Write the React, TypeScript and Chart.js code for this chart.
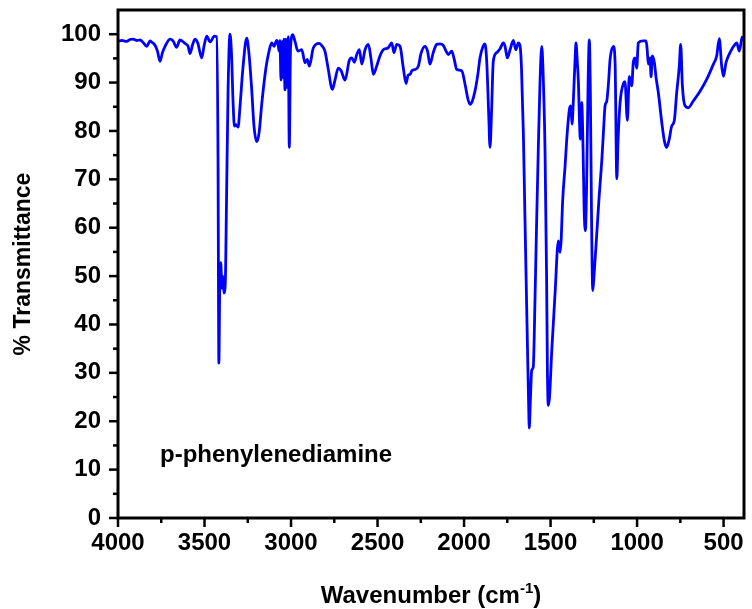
import React, { useEffect, useRef } from "react";
import { Chart, registerables } from "chart.js";

Chart.register(...registerables);

// Wavenumber (cm-1)
const wavenumbers = [
  4000, 3977, 3950, 3931, 3913, 3890, 3873, 3855, 3834, 3815,
  3803, 3786, 3772, 3757, 3743, 3728, 3699, 3682, 3661, 3642,
  3613, 3595, 3584, 3569, 3555, 3539, 3516, 3503, 3487, 3468,
  3443, 3430, 3422, 3417, 3412, 3406, 3400, 3394, 3388, 3380,
  3373, 3364, 3353, 3344, 3335, 3327, 3318, 3306, 3295, 3278,
  3256, 3243, 3228, 3214, 3198, 3185, 3168, 3145, 3127, 3112,
  3098, 3083, 3075, 3069, 3064, 3058, 3052, 3046, 3041, 3035,
  3029, 3023, 3016, 3010, 3003, 2990, 2977, 2960, 2938, 2919,
  2906, 2894, 2871, 2837, 2821, 2804, 2786, 2761, 2746, 2727,
  2711, 2688, 2663, 2649, 2634, 2620, 2605, 2591, 2572, 2553,
  2538, 2524, 2505, 2486, 2467, 2438, 2418, 2405, 2389, 2370,
  2351, 2335, 2324, 2312, 2301, 2283, 2264, 2249, 2226, 2211,
  2197, 2178, 2158, 2139, 2120, 2104, 2091, 2071, 2058, 2042,
  2013, 1994, 1977, 1965, 1954, 1937, 1919, 1908, 1890, 1879,
  1869, 1858, 1850, 1841, 1831, 1811, 1792, 1773, 1763, 1750,
  1734, 1715, 1701, 1686, 1676, 1668, 1657, 1648, 1636, 1627,
  1623, 1617, 1609, 1600, 1590, 1580, 1571, 1561, 1551, 1544,
  1532, 1523, 1518, 1513, 1506, 1493, 1474, 1455, 1445, 1439,
  1430, 1416, 1405, 1391, 1383, 1376, 1368, 1358, 1353, 1345,
  1339, 1332, 1328, 1320, 1312, 1306, 1299, 1292, 1283, 1276,
  1270, 1264, 1256, 1249, 1233, 1220, 1204, 1194, 1185, 1175,
  1165, 1156, 1137, 1127, 1117, 1110, 1098, 1079, 1070, 1056,
  1045, 1031, 1022, 1012, 1002, 993, 964, 948, 942, 935,
  925, 919, 912, 900, 890, 877, 857, 842, 829, 814,
  800, 785, 771, 756, 748, 738, 723, 704, 675, 636,
  597, 559, 540, 525, 511, 501, 486, 463, 434, 424,
  409, 395, 388,
];

// % Transmittance
const transmittance = [
  98.6, 98.7, 98.5, 98.9, 99.0, 98.7, 98.8, 98.3, 97.5, 98.6,
  98.3, 97.7, 96.5, 94.4, 96.2, 97.5, 99.0, 98.6, 97.3, 98.8,
  98.1, 97.5, 96.0, 97.8, 99.0, 98.2, 95.1, 97.5, 99.6, 98.4,
  99.6, 99.5, 75, 32.0, 48, 52.8, 47.5, 50, 46.5, 48.5,
  65, 88, 100, 96, 86, 81, 81.3, 80.8, 85, 93,
  99.2, 96, 89, 81, 77.8, 79.5, 86, 93, 96.5, 98.2,
  97.5, 98.7, 98, 96.5, 98.7, 90.5, 98.5, 91, 99, 88.5,
  99, 89, 99.5, 76.6, 97, 99.9, 98.5, 96.5, 96.8, 94.1,
  94.8, 93.4, 97.2, 98.1, 97.6, 96.5, 93, 88.6, 90.5, 93,
  92.5, 90.5, 94.6, 95.1, 94.2, 95.8, 96.8, 93.8, 96.8, 97.9,
  95, 91.7, 93.4, 95.5, 96.8, 97.2, 98.2, 96.2, 97.9, 97.5,
  93, 89.8, 91.5, 91.7, 92.5, 92.7, 93.4, 96, 97.5, 96.5,
  93.8, 96.2, 97.9, 98, 97.7, 96.5, 95.8, 96.5, 95, 92.7,
  92.4, 89.6, 86.5, 85.5, 86, 88.2, 92, 95.1, 97.5, 98,
  94.4, 84, 76.6, 84, 94.4, 96.2, 97, 98.2, 97.5, 95.1,
  96.8, 98.7, 96.8, 98.2, 97.5, 93, 79.3, 62, 40, 24,
  18.6, 24, 30.5, 31.2, 45, 62, 76, 90, 97.5, 93,
  76, 50, 30, 23.3, 25, 34.6, 46.4, 57.3, 54.9, 57.3,
  65.6, 72.8, 79, 84.5, 85.2, 81.4, 86.5, 95, 98.2, 94,
  90, 81, 78.3, 85.9, 76, 64, 59.4, 68, 90, 98.8,
  88, 65, 47, 50, 58.7, 66, 73.8, 80, 85.2, 86.2,
  90, 94.8, 97.5, 94, 70.1, 78, 85.9, 89.8, 90.2, 82.2,
  91.3, 89.3, 94.1, 95.1, 93, 98.2, 98.6, 98.6, 97, 93.8,
  95.1, 91.2, 95.5, 94.1, 91, 87.9, 81.7, 77.9, 76.6, 78.3,
  81, 82.1, 87.9, 93.4, 97.9, 89.3, 85.2, 84.8, 86.2, 88.2,
  90.7, 93.8, 95.5, 99.1, 93.4, 91.3, 94.1, 96.2, 97.9, 98.2,
  96.5, 99.1, 99.6,
];

const xTickValues = [4000, 3500, 3000, 2500, 2000, 1500, 1000, 500];
const yTickValues = [0, 10, 20, 30, 40, 50, 60, 70, 80, 90, 100];
const xRange = [382, 4000];
const yRange = [0, 105];

const sampleLabel = "p-phenylenediamine";
const sampleLabelAt = { x: 3757, y: 13 };
const xTitleMain = "Wavenumber (cm";
const xTitleSup = "-1";
const xTitleEnd = ")";
const yTitle = "% Transmittance";

const FONT = '"Liberation Sans", Arial, Helvetica, sans-serif';

const framePlugin = {
  id: "frameAndTicks",
  afterDraw(chart: any) {
    const { ctx, chartArea, scales } = chart;
    const { left, right, top, bottom } = chartArea;
    const xs = scales.x;
    const ys = scales.y;
    ctx.save();
    ctx.strokeStyle = "#000";
    ctx.lineWidth = 3;
    ctx.strokeRect(left, top, right - left, bottom - top);

    ctx.lineWidth = 2.5;
    ctx.lineCap = "butt";
    const drawX = (v: number, len: number) => {
      const px = xs.getPixelForValue(v);
      ctx.beginPath();
      ctx.moveTo(px, bottom);
      ctx.lineTo(px, bottom + len);
      ctx.stroke();
    };
    const drawY = (v: number, len: number) => {
      const py = ys.getPixelForValue(v);
      ctx.beginPath();
      ctx.moveTo(left, py);
      ctx.lineTo(left - len, py);
      ctx.stroke();
    };
    xTickValues.forEach((v, i) => {
      drawX(v, 9);
      if (i < xTickValues.length - 1) drawX((v + xTickValues[i + 1]) / 2, 5);
    });
    yTickValues.forEach((v, i) => {
      drawY(v, 9);
      if (i < yTickValues.length - 1) drawY((v + yTickValues[i + 1]) / 2, 5);
    });

    // sample label
    ctx.fillStyle = "#000";
    ctx.font = `bold 24px ${FONT}`;
    ctx.textAlign = "left";
    ctx.textBaseline = "middle";
    ctx.fillText(
      sampleLabel,
      xs.getPixelForValue(sampleLabelAt.x),
      ys.getPixelForValue(sampleLabelAt.y)
    );

    // x axis title with superscript
    const mainFont = `bold 24px ${FONT}`;
    const supFont = `bold 15px ${FONT}`;
    ctx.font = mainFont;
    const w1 = ctx.measureText(xTitleMain).width;
    const w3 = ctx.measureText(xTitleEnd).width;
    ctx.font = supFont;
    const w2 = ctx.measureText(xTitleSup).width;
    const total = w1 + w2 + w3;
    const cx = (left + right) / 2;
    const x0 = cx - total / 2;
    const base = 603;
    ctx.textBaseline = "alphabetic";
    ctx.font = mainFont;
    ctx.fillText(xTitleMain, x0, base);
    ctx.font = supFont;
    ctx.fillText(xTitleSup, x0 + w1, base - 10);
    ctx.font = mainFont;
    ctx.fillText(xTitleEnd, x0 + w1 + w2, base);
    ctx.restore();
  },
};

export default function App() {
  const canvasRef = useRef<HTMLCanvasElement | null>(null);

  useEffect(() => {
    const canvas = canvasRef.current;
    if (!canvas) return;
    const points = wavenumbers.map((w, i) => ({ x: w, y: transmittance[i] }));
    const chart = new Chart(canvas, {
      type: "line",
      data: {
        datasets: [
          {
            data: points,
            borderColor: "#0000ff",
            borderWidth: 2.8,
            pointRadius: 0,
            fill: false,
            cubicInterpolationMode: "monotone",
          },
        ],
      },
      options: {
        responsive: false,
        animation: false,
        events: [],
        layout: { padding: { top: 10, right: 8, left: 0, bottom: 0 } },
        plugins: {
          legend: { display: false },
          tooltip: { enabled: false },
        },
        scales: {
          x: {
            type: "linear",
            reverse: true,
            min: xRange[0],
            max: xRange[1],
            grid: { display: false, drawTicks: false },
            border: { display: false },
            afterBuildTicks: (scale: any) => {
              scale.ticks = xTickValues.map((v) => ({ value: v }));
            },
            afterFit: (scale: any) => {
              scale.height = 91;
              scale.paddingLeft = 0;
              scale.paddingRight = 0;
            },
            ticks: {
              autoSkip: false,
              maxRotation: 0,
              padding: 11,
              color: "#000",
              font: { family: FONT, size: 24, weight: "bold" },
              callback: (v: any) => String(v),
            },
          },
          y: {
            type: "linear",
            min: yRange[0],
            max: yRange[1],
            grid: { display: false, drawTicks: false },
            border: { display: false },
            afterBuildTicks: (scale: any) => {
              scale.ticks = yTickValues.map((v) => ({ value: v }));
            },
            afterFit: (scale: any) => {
              scale.width = 118;
              scale.paddingTop = 0;
              scale.paddingBottom = 0;
            },
            title: {
              display: true,
              text: yTitle,
              color: "#000",
              font: { family: FONT, size: 23, weight: "bold" },
              padding: { top: 10, bottom: 0 },
            },
            ticks: {
              autoSkip: false,
              padding: 17,
              color: "#000",
              font: { family: FONT, size: 24, weight: "bold" },
              callback: (v: any) => String(v),
            },
          },
        },
      },
      plugins: [framePlugin],
    });
    return () => chart.destroy();
  }, []);

  return (
    <div style={{ position: "absolute", left: 0, top: 0, width: 752, height: 609, background: "#fff" }}>
      <canvas ref={canvasRef} width={752} height={609} style={{ display: "block" }} />
    </div>
  );
}
